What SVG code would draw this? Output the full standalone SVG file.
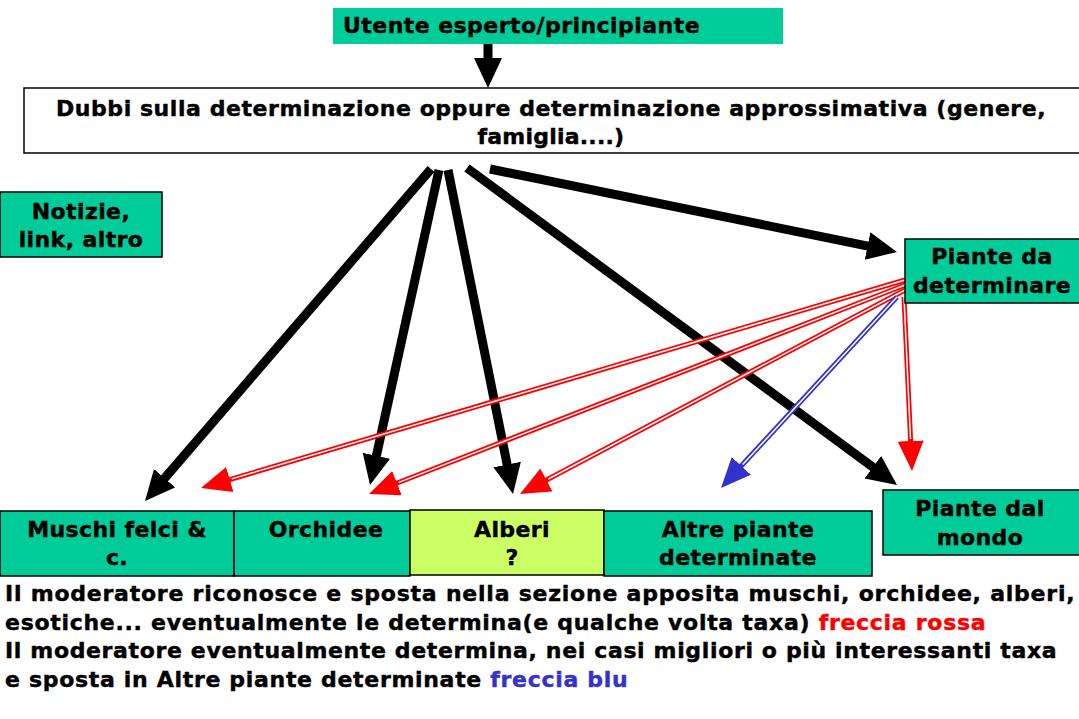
<svg xmlns="http://www.w3.org/2000/svg" width="1079" height="719" viewBox="0 0 1079 719">
<defs>
<style>
.t{font-family:"DejaVu Sans","Liberation Sans",sans-serif;font-weight:bold;font-size:22px;fill:#000;stroke:#000;stroke-width:0.45;letter-spacing:0.4px}
.c{text-anchor:middle}
.g{fill:#00CC99;stroke:#000;stroke-width:1.5}
.y{fill:#CCFF66;stroke:#000;stroke-width:1.5}
.bk{stroke:#000;stroke-width:9;fill:none}
.rd{stroke:#FF0000;stroke-width:5;fill:none}
.bl{stroke:#3333CC;stroke-width:5;fill:none}
.wh{stroke:#fff;stroke-width:1.5;fill:none}
.r{fill:#FF0000;stroke:#FF0000}
.b{fill:#3333CC;stroke:#3333CC}
</style>
<marker id="hb" markerUnits="userSpaceOnUse" markerWidth="32" markerHeight="30" refX="8" refY="14" orient="auto"><path d="M0,0 L30,14 L0,28 z" fill="#000"/></marker>
<marker id="hr" markerUnits="userSpaceOnUse" markerWidth="32" markerHeight="28" refX="8" refY="13" orient="auto"><path d="M0,0 L30,13 L0,26 z" fill="#FF0000"/></marker>
<marker id="hbl" markerUnits="userSpaceOnUse" markerWidth="32" markerHeight="28" refX="8" refY="13" orient="auto"><path d="M0,0 L30,13 L0,26 z" fill="#3333CC"/></marker>
</defs>
<rect width="1079" height="719" fill="#fff"/>

<g id="connectors">
<line class="bk" x1="488" y1="44" x2="488" y2="66" marker-end="url(#hb)"/>
<line class="bk" x1="431" y1="169" x2="159.4" y2="484.3" marker-end="url(#hb)"/>
<line class="bk" x1="439" y1="170" x2="374.7" y2="463.5" marker-end="url(#hb)"/>
<line class="bk" x1="448" y1="170" x2="508.7" y2="472.4" marker-end="url(#hb)"/>
<line class="bk" x1="467" y1="168" x2="879.3" y2="471.9" marker-end="url(#hb)"/>
<line class="bk" x1="490" y1="169" x2="875.4" y2="247.6" marker-end="url(#hb)"/>

<line class="rd" x1="905" y1="280" x2="222.1" y2="481.8" marker-end="url(#hr)"/>
<line class="wh" x1="905" y1="280" x2="231.7" y2="478.9"/>
<line class="rd" x1="905" y1="285" x2="389.5" y2="486" marker-end="url(#hr)"/>
<line class="wh" x1="905" y1="285" x2="398.8" y2="482.4"/>
<line class="rd" x1="905" y1="290" x2="539.4" y2="483.7" marker-end="url(#hr)"/>
<line class="wh" x1="905" y1="290" x2="548.3" y2="479"/>
<line class="rd" x1="904" y1="297" x2="911" y2="449" marker-end="url(#hr)"/>
<line class="wh" x1="904" y1="297" x2="910.5" y2="439"/>

<line class="bl" x1="897" y1="297" x2="735.9" y2="471.8" marker-end="url(#hbl)"/>
<line class="wh" x1="897" y1="297" x2="742.7" y2="464.5"/>
</g>

<g id="utente">
<rect x="333" y="8" width="450" height="36" fill="#00CC99"/>
<text class="t" x="343" y="33" textLength="357">Utente esperto/principiante</text>
</g>

<g id="dubbi">
<rect x="24" y="88" width="1060" height="65" fill="#fff" stroke="#000" stroke-width="1.5"/>
<text class="t c" x="551" y="116" textLength="990">Dubbi sulla determinazione oppure determinazione approssimativa (genere,</text>
<text class="t c" x="551" y="144" textLength="147">famiglia....)</text>
</g>

<g id="notizie">
<rect class="g" x="0" y="192" width="162" height="65"/>
<text class="t c" x="81" y="219">Notizie,</text>
<text class="t c" x="81" y="247">link, altro</text>
</g>

<g id="piante-da-determinare">
<rect class="g" x="905" y="239" width="180" height="64"/>
<text class="t c" x="992" y="264">Piante da</text>
<text class="t c" x="992" y="293">determinare</text>
</g>

<g id="muschi">
<rect class="g" x="0" y="511" width="234" height="65"/>
<text class="t c" x="117" y="537">Muschi felci &amp;</text>
<text class="t c" x="117" y="565">c.</text>
</g>

<g id="orchidee">
<rect class="g" x="234" y="511" width="176" height="65"/>
<text class="t c" x="326" y="537">Orchidee</text>
</g>

<g id="alberi">
<rect class="y" x="410" y="510" width="194" height="65"/>
<text class="t c" x="512" y="537">Alberi</text>
<text class="t c" x="512" y="565">?</text>
</g>

<g id="altre-piante">
<rect class="g" x="604" y="511" width="268" height="65"/>
<text class="t c" x="738" y="537">Altre piante</text>
<text class="t c" x="738" y="565">determinate</text>
</g>

<g id="piante-dal-mondo">
<rect class="g" x="883" y="490" width="200" height="65"/>
<text class="t c" x="980" y="516">Piante dal</text>
<text class="t c" x="980" y="545">mondo</text>
</g>

<g id="note">
<text class="t" x="5" y="601" textLength="1070">Il moderatore riconosce e sposta nella sezione apposita muschi, orchidee, alberi,</text>
<text class="t" x="5" y="630" textLength="981">esotiche... eventualmente le determina(e qualche volta taxa) <tspan class="r">freccia rossa</tspan></text>
<text class="t" x="5" y="658" textLength="1052">Il moderatore eventualmente determina, nei casi migliori o più interessanti taxa</text>
<text class="t" x="5" y="687" textLength="623">e sposta in Altre piante determinate <tspan class="b">freccia blu</tspan></text>
</g>
</svg>
